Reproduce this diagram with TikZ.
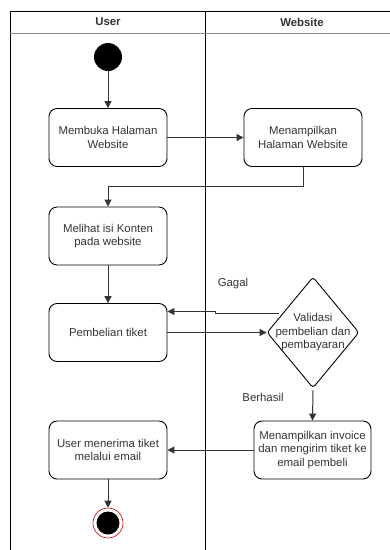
\documentclass[tikz,border=0pt]{standalone}
\usepackage{fontspec}
\setmainfont{Liberation Sans}
\usetikzlibrary{shapes.geometric,arrows.meta}
\definecolor{txt}{HTML}{333333}
\tikzset{
  x=1pt,y=-1pt,
  act/.style={draw, rounded corners=8pt, line width=0.9pt, minimum width=118pt, minimum height=58pt, align=center, font=\fontsize{11.4}{13.5}\selectfont, text=txt, inner sep=1pt},
  flow/.style={draw=black!80, line width=1pt, -{Triangle[length=7pt,width=7pt]}},
  lane/.style={line width=1pt},
  lbl/.style={font=\fontsize{11.4}{13.5}\selectfont, text=txt},
}
\begin{document}
\begin{tikzpicture}
\useasboundingbox (0,0) rectangle (390,550);
% swimlanes
\draw[lane] (10,550) -- (10,11) -- (390,11);
\draw[lane] (205,11) -- (205,550);
\draw[line width=1pt, draw=black!45] (10,33) -- (390,33);
\node[font=\bfseries\fontsize{11.4}{13.5}\selectfont, text=txt] (hu) at (108,22) {User};
\node[font=\bfseries\fontsize{11.4}{13.5}\selectfont, text=txt] (hw) at (302,22) {Website};
% nodes
\node[circle, fill=black, minimum size=28pt, inner sep=0] (start) at (108,57) {};
\node[act] (b1) at (108,137.5) {Membuka Halaman\\Website};
\node[act] (b2) at (303,137.5) {Menampilkan\\Halaman Website};
\node[act] (b3) at (108,236) {Melihat isi Konten\\pada website};
\node[act] (b4) at (108,332.5) {Pembelian tiket};
\node[diamond, draw, line width=0.9pt, rounded corners=3pt, minimum width=92pt, minimum height=111pt, inner sep=0, aspect=0.83] (d) at (313,332.5) {};
\node[lbl, align=center] (dt) at (313,332.5) {Validasi\\pembelian dan\\pembayaran};
\node[act, minimum width=117pt] (b5) at (312.5,450) {Menampilkan invoice\\dan mengirim tiket ke\\email pembeli};
\node[act] (b6) at (108,450) {User menerima tiket\\melalui email};
\node[circle, draw=red!75!black, line width=0.6pt, fill=white, minimum size=30pt, inner sep=0] (end) at (108,523) {};
\node[circle, fill=black, minimum size=23pt, inner sep=0] (endin) at (108,523) {};
% labels
\node[lbl] (gagal) at (233,284) {Gagal};
\node[lbl] (berhasil) at (263,397) {Berhasil};
% connectors
\draw[flow] (start) -- (b1);
\draw[flow] (b1) -- (b2);
\draw[flow] (b2.south) -- ++(0,20) -| (b3.north);
\draw[flow] (b3) -- (b4);
\draw[flow] (b4.east |- 0,332.5) -- (d.west);
\coordinate (gj) at (215,313);
\draw[flow] (d.west |- 0,313) ++(12,0) -- (gj) -- ++(0,-1.5) -- (b4.east |- 0,311.5);
\draw[flow] (d.south) ++(0,2) -- (b5.north);
\draw[flow] (b5.west) -- (b6.east);
\draw[flow] (b6) -- (end);
\end{tikzpicture}
\end{document}
